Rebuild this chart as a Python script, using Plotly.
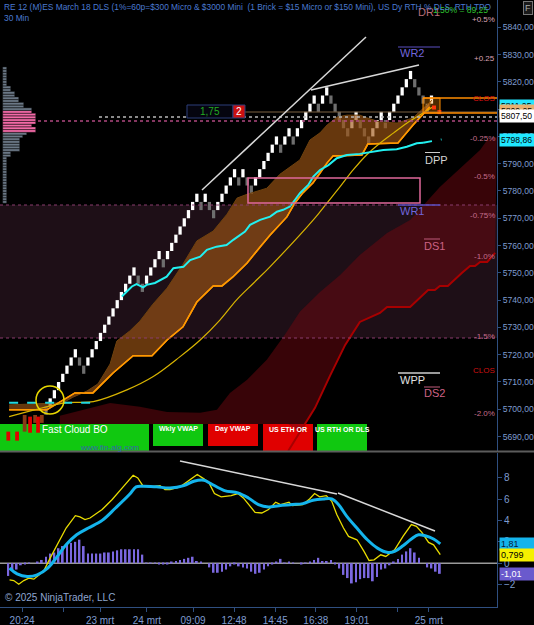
import plotly.graph_objects as go

# ---------------- data ----------------
# renko bricks, 3 points each: close of every brick, left to right
brick_close = [5698, 5704, 5707, 5710, 5713, 5716, 5719, 5722, 5716, 5713,
               5719, 5722, 5725, 5728, 5731, 5734, 5737, 5740, 5743, 5746,
               5749, 5752, 5746, 5743, 5749, 5752, 5755, 5758, 5752, 5758,
               5761, 5764, 5767, 5770, 5773, 5776, 5779, 5773, 5779, 5773,
               5770, 5776, 5779, 5782, 5785, 5788, 5782, 5788, 5782, 5779,
               5785, 5788, 5791, 5794, 5797, 5800, 5794, 5800, 5803, 5797,
               5803, 5806, 5809, 5812, 5815, 5809, 5815, 5818, 5812, 5809,
               5806, 5803, 5800, 5806, 5809, 5803, 5800, 5797, 5803, 5806,
               5809, 5803, 5809, 5812, 5815, 5818, 5821, 5824, 5818, 5815,
               5812, 5809, 5815]
BRICK = 3.0

x_ticks = [-5.7, 4.1, 12.9, 24.1, 35.1, 44.9, 54.7, 64.4, 74.2, 84.0, 91.4]
x_labels = ["20:24", "", "23 mrt", "24 mrt", "09:09", "12:48", "14:45",
            "16:38", "19:01", "", "25 mrt"]

# fast cloud (orange)
cloud_lo_x = [-8.8, 0.2, 6.9, 11.2, 16.0, 20.8, 25.3, 28.9, 32.7, 36.0, 39.9, 42.0,
              44.6, 48.0, 51.1, 53.5, 57.5, 59.4, 61.3, 63.7, 65.4, 67.1, 68.5, 75.4,
              76.8, 84.0, 87.6, 91.6]
cloud_lo_y = [5699.8, 5699.8, 5706.0, 5706.0, 5713.3, 5719.6, 5719.6, 5725.4, 5730.2,
              5739.3, 5745.2, 5745.2, 5748.5, 5753.6, 5759.5, 5763.9, 5770.5, 5775.6,
              5779.3, 5782.9, 5786.6, 5790.3, 5792.8, 5793.2, 5797.2, 5797.6, 5804.2,
              5810.8]
cloud_hi_x = [-8.8, 4.1, 6.4, 9.8, 12.4, 15.3, 16.9, 20.0, 22.4, 25.5, 28.9, 32.7, 36.0,
              39.9, 43.2, 45.6, 48.0, 52.7, 55.8, 58.2, 60.6, 63.0, 65.4, 67.1, 69.5,
              71.8, 74.9, 76.6, 79.7, 83.8, 87.6, 90.9, 92.1]
cloud_hi_y = [5701.6, 5702.4, 5704.4, 5706.7, 5709.3, 5716.6, 5725.0, 5728.7, 5732.3,
              5738.5, 5744.4, 5753.2, 5761.7, 5765.3, 5771.5, 5777.4, 5778.8, 5781.0,
              5786.1, 5788.8, 5791.4, 5798.7, 5801.3, 5804.2, 5807.1, 5807.8, 5807.8,
              5806.8, 5805.3, 5804.9, 5806.8, 5811.5, 5813.3]

# slow yellow average
yellow_x = [-8.8, -3.0, 4.9, 11.3, 19.3, 25.6, 32.0, 36.8, 41.5, 45.5, 49.5, 53.5,
            63.8, 67.0, 70.2, 73.3, 76.5, 79.7, 82.9, 86.1, 89.3, 92.4]
yellow_y = [5697.3, 5699.7, 5702.4, 5702.8, 5707.1, 5712.0, 5719.3, 5725.4, 5732.7,
            5740.1, 5746.2, 5752.3, 5769.4, 5775.5, 5781.6, 5787.7, 5793.2, 5797.5,
            5801.2, 5804.8, 5807.9, 5810.9]

# day vwap (cyan)
vwap_x = [18.1, 20.5, 21.6, 22.4, 23.2, 24.0, 26.0, 28.8, 30.4, 32.8, 34.4, 36.8, 38.4,
          40.7, 43.1, 44.7, 46.3, 47.5, 48.7, 51.1, 53.5, 55.1, 56.6, 58.2, 59.4, 60.6,
          62.6, 63.8, 65.4, 67.4, 69.4, 71.8, 74.9, 78.1, 80.5, 83.7, 86.1, 88.5, 90.0]
vwap_y = [5741.3, 5745.0, 5745.9, 5745.2, 5744.7, 5745.6, 5746.3, 5748.6, 5751.7,
          5752.2, 5754.7, 5755.9, 5758.4, 5759.6, 5760.2, 5762.1, 5763.9, 5765.1,
          5767.6, 5769.4, 5770.6, 5772.4, 5773.1, 5774.3, 5776.7, 5779.2, 5782.2,
          5785.3, 5787.7, 5789.5, 5792.0, 5793.2, 5793.6, 5794.4, 5795.0, 5795.3,
          5796.2, 5797.5, 5797.7]
vwap_ext_x = [90.0, 94.4]
vwap_ext_y = [5797.7, 5798.9]
vwap_prev_x = [-8.8, 11.7]
vwap_prev_y = [5702.4, 5702.4]

# slow cloud (dark red)
red_top_x = [3.3, 15.3, 22.4, 28.9, 36.8, 40.8, 43.9, 48.0, 52.7, 57.0, 60.6, 65.4,
             70.2, 74.9, 81.4, 86.9, 94.0, 100.4, 103.6, 105.3, 107.6]
red_top_y = [5697.6, 5702.3, 5700.9, 5699.0, 5698.7, 5699.8, 5706.0, 5710.8, 5718.1,
             5727.3, 5735.7, 5743.0, 5749.2, 5756.5, 5764.6, 5769.4, 5781.5, 5790.3,
             5795.0, 5798.7, 5799.8]
red_line_x = [57.8, 60.6, 64.2, 67.8, 71.4, 74.9, 79.7, 81.4, 86.9, 91.2, 92.8, 94.0,
              95.9, 99.3, 101.2, 102.4, 103.6, 105.3, 107.2]
red_line_y = [5684.7, 5691.7, 5700.5, 5712.3, 5723.6, 5732.0, 5735.3, 5737.5, 5737.5,
              5743.7, 5743.7, 5745.2, 5745.2, 5750.0, 5752.5, 5752.5, 5754.0, 5754.0,
              5757.3]
red_floor = 5694.6

# breakout bars under the chart
bo_x = [-9.0, -6.9, -5.1, -3.8, -2.6, -1.9, -1.0]
bo_lo = [5688.5, 5688.5, 5691.8, 5691.4, 5695.0, 5691.4, 5695.0]
bo_hi = [5691.8, 5691.8, 5697.9, 5697.3, 5697.9, 5697.3, 5697.9]
bo_col = ["#e00000", "#e00000", "#8a3a16", "#e00000", "#8a3a16", "#e00000", "#8a3a16"]

# signal dots
sig_x = [92.6, 93.9]
sig_y = [5810.6, 5808.9]

# volume profile (rows of 1 point)
profile_price = list(range(5776, 5826))
profile_vol = [4, 4, 4, 4, 4, 4, 4, 4, 4, 4, 4, 4, 4, 4, 4, 4, 4,
               8, 8, 17, 17, 17, 17, 17, 20, 24, 33, 33, 29, 33, 33, 33, 33,
               29, 29, 21, 21, 16, 16, 12, 12, 8, 8, 4, 4, 4, 4, 4, 4, 4]
va_low, va_high = 5802, 5809

# oscillator
osc_yel_x = [-8.7, -7.7, -6.5, -5.3, -4.1, -2.9, -1.6, -0.4, 1.2, 2.8, 4.8, 7.0, 8.1,
             9.3, 10.5, 13.4, 15.8, 18.2, 20.8, 21.9, 23.1, 24.7, 27.2, 28.4, 29.6,
             32.0, 34.5, 36.1, 37.7, 38.9, 40.2, 41.8, 44.2, 45.8, 47.1, 48.3, 49.9,
             51.5, 53.1, 54.8, 56.0, 58.0, 58.8, 61.3, 62.9, 64.1, 65.3, 66.9, 68.2,
             69.4, 71.0, 72.2, 74.2, 75.9, 77.1, 78.3, 79.9, 81.1, 83.2, 85.2, 87.2,
             88.4, 89.7, 91.3, 92.5, 94.1]
osc_yel_y = [-1.57, -1.63, -1.97, -1.63, -1.41, -1.5, -1.10, -0.63, 0.63, 1.88, 3.29,
             4.45, 4.33, 4.08, 4.23, 5.02, 5.96, 7.05, 8.24, 7.99, 7.27, 7.15, 7.27,
             6.90, 6.90, 7.15, 7.90, 8.31, 7.90, 7.52, 6.52, 6.21, 6.33, 6.52, 6.11,
             5.49, 4.76, 4.70, 5.02, 5.71, 5.49, 5.71, 5.39, 5.49, 6.02, 6.52, 6.21,
             6.33, 5.80, 4.55, 3.29, 2.51, 2.19, 1.10, 0.25, 0.31, 0.78, 0.63, 1.25,
             2.51, 3.61, 3.45, 2.88, 1.94, 1.72, 0.80]
osc_cyan_x = [-8.7, -6.9, -4.5, -2.1, 0.4, 2.4, 4.8, 7.3, 10.1, 13.4, 16.6, 19.9, 21.5,
              23.1, 26.4, 29.6, 32.9, 35.3, 37.7, 39.3, 42.6, 45.8, 48.3, 50.7, 53.1,
              55.6, 58.8, 61.3, 63.7, 66.1, 68.2, 69.8, 71.8, 74.2, 76.7, 79.1, 81.6,
              83.2, 85.2, 87.2, 88.9, 90.5, 92.5, 94.1]
osc_cyan_y = [-0.47, -1.00, -1.25, -1.10, -0.47, 0.47, 1.72, 2.66, 3.29, 4.01, 5.17,
              6.43, 7.15, 7.21, 7.15, 7.05, 7.27, 7.68, 7.77, 7.46, 6.80, 6.58, 6.11,
              5.49, 5.27, 5.39, 5.49, 5.58, 5.90, 6.02, 6.02, 5.49, 4.39, 3.29, 2.19,
              1.41, 1.00, 1.10, 1.63, 2.26, 2.66, 2.57, 2.26, 1.81]
hist_first = -9
hist_vals = [-1.2, -0.7, -0.6, -0.2, -0.1, 0.05, 0.0, 0.15, 0.3,
             0.6, 0.9, 1.0, 1.4, 1.6, 1.8, 1.9, 2.0, 2.2, 1.6,
             0.9, 0.9, 0.9, 0.9, 1.0, 1.0, 1.1, 1.2, 1.3, 1.3,
             1.3, 1.3, 1.3, 0.8, 0.03, 0.03, 0.03, -0.1, -0.1, -0.05,
             0.1, 0.2, 0.3, 0.4, 0.5, 0.6, 0.2, 0.15, 0.0, -0.4,
             -0.9, -0.9, -0.8, -0.6, -0.3, -0.1, -0.3, -0.4, -0.5, -0.8,
             -1.0, -0.9, -0.6, -0.3, -0.05, 0.1, 0.4, 0.05, 0.1, 0.05,
             0.0, -0.05, 0.05, 0.1, 0.3, 0.5, 0.2, 0.2, 0.3, -0.1,
             -0.5, -1.1, -1.4, -1.9, -1.8, -1.5, -1.4, -1.4, -1.7, -1.3,
             -0.6, -0.5, -0.2, 0.1, 0.4, 0.8, 1.1, 1.4, 1.0, 0.5,
             0.0, -0.4, -0.5, -0.8, -1.0]

pct_text = ["+0.5%", "+0.25", "-0.25%", "-0.5%", "-0.75%", "-1.0%", "-1.5%", "-2.0%"]
pct_price = [5843.0, 5828.4, 5799.1, 5785.2, 5770.9, 5755.9, 5726.6, 5698.3]

# ---------------- layout helpers ----------------
PW, PH = 497, 607          # plot area in px
AX = "#7f9ccf"
AXLINE = "#2f4f80"
FONT = "Liberation Sans, Arial, sans-serif"


def fx(px):
    return px / PW


def fy(py):
    return 1 - py / PH


shapes = []
annots = []


def seg(x0, y0, x1, y1, color, width=1, dash="solid", layer="above"):
    shapes.append(dict(type="line", xref="paper", yref="paper",
                       x0=fx(x0), y0=fy(y0), x1=fx(x1), y1=fy(y1),
                       line=dict(color=color, width=width, dash=dash), layer=layer))


def box(x0, y0, x1, y1, line="rgba(0,0,0,0)", fill="rgba(0,0,0,0)", width=1, layer="above", kind="rect"):
    shapes.append(dict(type=kind, xref="paper", yref="paper",
                       x0=fx(x0), y0=fy(y1), x1=fx(x1), y1=fy(y0),
                       line=dict(color=line, width=width), fillcolor=fill, layer=layer))


def label(px, py, s, color, size=10, xanchor="left", **kw):
    annots.append(dict(xref="paper", yref="paper", x=fx(px), y=fy(py), text=s,
                       showarrow=False, xanchor=xanchor, yanchor="middle",
                       font=dict(color=color, size=size, family=FONT), **kw))


# ---------------- traces ----------------
fig = go.Figure()

# slow red cloud
poly_x = red_top_x + red_line_x[:0:-1] + [red_line_x[0], red_top_x[0]]
poly_y = red_top_y + red_line_y[:0:-1] + [red_floor, red_floor]
fig.add_trace(go.Scatter(x=poly_x, y=poly_y, fill="toself", mode="lines",
                         line=dict(width=0), fillcolor="rgba(112,8,16,0.5)"))

# renko bricks
idx = list(range(len(brick_close)))
up = [False] + [brick_close[i] > brick_close[i - 1] for i in range(1, len(brick_close))]
opens = [c - BRICK if u else c + BRICK for c, u in zip(brick_close, up)]
fig.add_trace(go.Bar(x=idx, y=[abs(c - o) for c, o in zip(brick_close, opens)],
                     base=[min(c, o) for c, o in zip(brick_close, opens)], width=0.78,
                     marker=dict(color=["#ffffff" if u else "#6e6e6e" for u in up],
                                 line=dict(width=0))))

# breakout bars
fig.add_trace(go.Bar(x=bo_x, y=[h - l for h, l in zip(bo_hi, bo_lo)], base=bo_lo,
                     width=0.9, marker=dict(color=bo_col, line=dict(width=0))))

# fast orange cloud
fig.add_trace(go.Scatter(x=cloud_lo_x, y=cloud_lo_y, mode="lines",
                         line=dict(color="#ff9800", width=1.5)))
fig.add_trace(go.Scatter(x=cloud_hi_x, y=cloud_hi_y, mode="lines", fill="tonexty",
                         fillcolor="rgba(160,86,20,0.64)",
                         line=dict(color="#6e420e", width=1)))
fig.add_trace(go.Scatter(x=cloud_lo_x, y=cloud_lo_y, mode="lines",
                         line=dict(color="#ff9800", width=1.5)))

fig.add_trace(go.Scatter(x=yellow_x, y=yellow_y, mode="lines", line_shape="spline",
                         line=dict(color="#d8b400", width=1.2)))
fig.add_trace(go.Scatter(x=vwap_x, y=vwap_y, mode="lines",
                         line=dict(color="#22f0f0", width=2)))
fig.add_trace(go.Scatter(x=vwap_ext_x, y=vwap_ext_y, mode="lines",
                         line=dict(color="#22f0f0", width=2, dash="dash")))
fig.add_trace(go.Scatter(x=vwap_prev_x, y=vwap_prev_y, mode="lines",
                         line=dict(color="#22d8e0", width=2, dash="dash")))
fig.add_trace(go.Scatter(x=red_line_x, y=red_line_y, mode="lines",
                         line=dict(color="#a80000", width=2)))
fig.add_trace(go.Scatter(x=sig_x, y=sig_y, mode="markers",
                         marker=dict(color="#ff1010", size=4, symbol="square")))

# volume profile on its own hidden axis
fig.add_trace(go.Bar(y=profile_price, x=profile_vol, orientation="h", width=0.92,
                     xaxis="x3", yaxis="y",
                     marker=dict(color=["#f46aa8" if va_low <= p <= va_high else "#6b7886"
                                        for p in profile_price],
                                 line=dict(color="#0a0a0a", width=0.4))))

# oscillator
fig.add_trace(go.Bar(x=list(range(hist_first, hist_first + len(hist_vals))), y=hist_vals,
                     width=0.42, yaxis="y2", marker=dict(color="#7b68e0", line=dict(width=0))))
fig.add_trace(go.Scatter(x=osc_yel_x, y=osc_yel_y, mode="lines", yaxis="y2",
                         line=dict(color="#e8dc00", width=1.3)))
fig.add_trace(go.Scatter(x=osc_cyan_x, y=osc_cyan_y, mode="lines", yaxis="y2",
                         line_shape="spline", line=dict(color="#14b4ec", width=3)))

# ---------------- decorations ----------------
box(0, 205, 497, 338, fill="#1e0f17", width=0, layer="below")
seg(0, 205, 497, 205, "#8a3d6e", 1, "dot")
seg(0, 338, 497, 338, "#8a3d6e", 1, "dot")
seg(38, 121, 497, 121, "#b04880", 1.5, "dot")
seg(99, 117, 497, 117, "#b8b8b8", 1.5, "dot")
seg(245, 112, 497, 112, "#7a6040", 1)
box(423, 98, 440, 113, line="#ff8c00", fill="rgba(255,140,0,0.3)", width=1)
seg(423, 98, 497, 98, "#ff8c00", 1.5)
seg(423, 113, 497, 113, "#ff8c00", 1.5)
seg(0, 451.5, 534, 451.5, "#5c5c5c", 2)
shapes.append(dict(type="line", xref="paper", yref="y2", x0=0, x1=1, y0=0, y1=0,
                   line=dict(color="#9a9a9a", width=1.5), layer="below"))

# pink zone box and yellow circle
box(248, 178, 420, 203, line="#e0689a", width=1.5)
box(36, 386, 64, 414, line="#e8d800", width=1.5, kind="circle")

# trend lines
seg(202, 190, 366, 37, "#d8d8d8", 1.5)
seg(311, 90, 419, 65, "#d8d8d8", 1.5)
seg(180, 461, 337, 494, "#d8d8d8", 1.5)
seg(338, 493, 435, 531, "#d8d8d8", 1.5)

# pivot levels
seg(398, 47, 440, 47, "#5b4fc0", 1)
label(398, 53, "WR2", "#7266dc", 11)
seg(425, 152.5, 440, 152.5, "#cccccc", 1)
label(423, 160, "DPP", "#d4d4d4", 11)
seg(398, 205, 440, 205, "#5b4fc0", 1.5)
label(398, 211, "WR1", "#7266dc", 11)
seg(424, 239, 440, 239, "#c05a7a", 1)
label(422, 246, "DS1", "#cc6284", 11)
seg(398, 373, 440, 373, "#9a9a9a", 2)
label(398, 380, "WPP", "#e0e0e0", 11)
seg(424, 387, 440, 387, "#c05a7a", 1)
label(422, 393, "DS2", "#cc6284", 11)

label(416, 12, "DR1", "#b86e7a", 11)
label(431, 10, "1.50% = 89,25", "#2ec02e", 8.5)
for t, p in zip(pct_text, pct_price):
    annots.append(dict(xref="paper", yref="y", x=1, y=p, text=t, showarrow=False,
                       xanchor="right", yanchor="middle",
                       font=dict(color="#d9a3b5" if t.startswith("+") else "#c46d8c",
                                 size=8, family=FONT)))
label(497, 98, "CLOS", "#e01010", 8, xanchor="right")
label(497, 370, "CLOS", "#d01010", 8, xanchor="right")

# risk box
box(187, 105, 233, 118, line="#2c3f7a", fill="#05050f")
box(233, 105, 245, 118, line="#2c3f7a", fill="#cc1010")
label(210, 111.5, "1,75", "#22aa22", 10, xanchor="center")
label(239, 111.5, "2", "#ffffff", 10, xanchor="center")

# buttons
buttons = [("Fast Cloud BO", 0, 149, 451, "#10c810"), ("Wkly VWAP", 153, 203, 446, "#10c810"),
           ("Day VWAP", 208, 258, 446, "#e00000"), ("US ETH OR", 263, 313, 451, "#e00000"),
           ("US RTH OR DLS", 317, 367, 451, "#10c810")]
for name, x0, x1, y1, col in buttons:
    box(x0, 424, x1, y1, fill=col, width=0, layer="below")
    if name == "Fast Cloud BO":
        label((x0 + x1) / 2, 429, name, "#ffffff", 10, xanchor="center")
    else:
        label((x0 + x1) / 2, 429, "<b>" + name + "</b>", "#ffffff", 7, xanchor="center")
label(78, 447, "www.fin-alg.com", "#3a5fb0", 8)

# price tags on the right axis
for txt, p, bg, fg in [("5811,25", 5811.25, "#22e5ff", "#000000"),
                       ("5809,25", 5809.25, "#e8b070", "#000000"),
                       ("5807,50", 5807.5, "#ffffff", "#000000"),
                       ("5798,86", 5798.86, "#20e8ff", "#000000")]:
    annots.append(dict(xref="paper", yref="y", x=1, y=p, text=txt, showarrow=False,
                       xanchor="left", yanchor="middle", xshift=2, bgcolor=bg,
                       borderpad=1, width=33, align="left",
                       font=dict(color=fg, size=8.6, family=FONT)))
for txt, v, bg, fg in [("1,81", 1.81, "#14b4ec", "#0a1a3a"),
                       ("0,799", 0.799, "#f5f000", "#000000"),
                       ("-1,01", -1.01, "#6a5acd", "#ffffff")]:
    annots.append(dict(xref="paper", yref="y2", x=1, y=v, text=txt, showarrow=False,
                       xanchor="left", yanchor="middle", xshift=2, bgcolor=bg,
                       borderpad=1, width=33, align="left",
                       font=dict(color=fg, size=9, family=FONT)))

label(528, 8, "F", "#aaaaaa", 9, xanchor="center", bgcolor="#1a1a1a",
      bordercolor="#777777", borderwidth=1, borderpad=1)
label(3, 597, "\u00a9 2025 NinjaTrader, LLC", "#8fa6d0", 10)
annots.append(dict(xref="paper", yref="paper", x=fx(2), y=1, xanchor="left", yanchor="top",
                   showarrow=False, align="left",
                   text="RE 12 (M)ES March 18 DLS (1%=60p=$300 Micro & $3000 Mini  (1 Brick = "
                        "$15 Micro or $150 Mini), US Dy RTH % DLS, RTH TPO<br>30 Min",
                   font=dict(color="#4a7ad0", size=8.4, family=FONT)))

fig.update_layout(
    width=534, height=625,
    margin=dict(l=0, r=37, t=0, b=18),
    paper_bgcolor="black", plot_bgcolor="black",
    showlegend=False, barmode="overlay", separators=",.",
    font=dict(family=FONT, color=AX, size=9),
    xaxis=dict(domain=[0, 1], range=[-46 / 4.19, (PW - 46) / 4.19], anchor="y2",
               tickvals=x_ticks, ticktext=x_labels, ticks="outside", ticklen=4,
               tickcolor=AXLINE, showgrid=False, zeroline=False, showline=True,
               linecolor=AXLINE, tickfont=dict(size=10, color=AX), automargin=False),
    yaxis=dict(domain=[(PH - 451) / PH, 1], range=[5684.7, 5850], side="right", anchor="x",
               tickvals=list(range(5690, 5850, 10)), tickformat=".2f", ticks="outside",
               ticklen=3, tickcolor=AXLINE, showgrid=False, zeroline=False, showline=True,
               linecolor=AXLINE, tickfont=dict(size=8.6, color=AX), automargin=False),
    yaxis2=dict(domain=[0, (PH - 452.5) / PH], range=[-4.11, 10.37], side="right",
                anchor="x", tickvals=[-2, 0, 2, 4, 6, 8], ticks="outside", ticklen=4,
                tickcolor=AXLINE, showgrid=False, zeroline=False, showline=True,
                linecolor=AXLINE, tickfont=dict(size=10, color=AX), automargin=False),
    xaxis3=dict(overlaying="x", anchor="y", range=[-2.7, PW - 2.7], visible=False),
    shapes=shapes, annotations=annots,
)

fig.write_html("out.html", config={"displayModeBar": False},
               post_script="document.body.style.margin='0';document.body.style.background='#000';")
